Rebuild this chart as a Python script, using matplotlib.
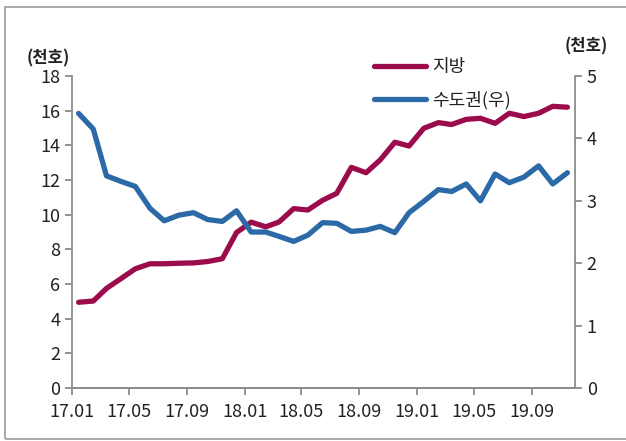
import numpy as np
import pandas as pd
import matplotlib
matplotlib.use('Agg')
import matplotlib.pyplot as plt
import matplotlib.dates as mdates
from matplotlib.patches import Rectangle

plt.rcParams['font.family'] = ['Noto Sans CJK KR', 'DejaVu Sans']

# 월별 자료 (17.01 ~ 19.11)
months = pd.date_range('2017-01-01', periods=35, freq='MS') + pd.Timedelta(days=14)

jibang = [4.95, 5.02, 5.75, 6.32, 6.88, 7.17, 7.17, 7.2, 7.22, 7.3, 7.46, 8.97,
          9.57, 9.3, 9.58, 10.35, 10.27, 10.83, 11.23, 12.73, 12.42, 13.16, 14.18, 13.96,
          14.98, 15.31, 15.2, 15.5, 15.56, 15.27, 15.85, 15.66, 15.85, 16.25, 16.2]
sudo = [4.40, 4.15, 3.40, 3.31, 3.23, 2.88, 2.68, 2.77, 2.81, 2.70, 2.67, 2.84,
        2.50, 2.50, 2.43, 2.35, 2.45, 2.65, 2.64, 2.51, 2.53, 2.59, 2.49, 2.81,
        2.99, 3.18, 3.15, 3.27, 3.0, 3.43, 3.29, 3.38, 3.56, 3.27, 3.45]

red = '#9C0C4C'
blue = '#2B6AA6'
gray = '#8C8C8C'
txt = '#222222'

fig = plt.figure(figsize=(6.26, 4.41), dpi=100)
ax = fig.add_axes([0.115, 0.12, 0.8035, 0.7077])
ax2 = ax.twinx()

l1, = ax.plot(months, jibang, color=red, lw=3.8, solid_capstyle='round', label='지방')
l2, = ax2.plot(months, sudo, color=blue, lw=3.8, solid_capstyle='round', label='수도권(우)')

ax.set_ylim(0, 18)
ax.set_yticks(np.arange(0, 19, 2))
ax2.set_ylim(0, 5)
ax2.set_yticks(np.arange(0, 6, 1))

ax.set_xlim(pd.Timestamp('2017-01-01'), pd.Timestamp('2019-12-01'))
ax.xaxis.set_major_locator(mdates.MonthLocator(bymonth=[1, 5, 9]))
ax.xaxis.set_major_formatter(mdates.DateFormatter('%y.%m'))

for a in (ax, ax2):
    a.spines['top'].set_visible(False)
    for s in ('left', 'right', 'bottom'):
        a.spines[s].set_color(gray)
        a.spines[s].set_linewidth(1.3)
    a.tick_params(colors=gray, labelcolor=txt, labelsize=13, length=5, width=1.3)
ax.spines['right'].set_visible(False)
ax2.spines['left'].set_visible(False)
ax.tick_params(axis='x', pad=6)

fig.text(0.043, 0.868, '(천호)', fontsize=12, fontweight='bold', color=txt, va='center')
fig.text(0.902, 0.895, '(천호)', fontsize=12, fontweight='bold', color=txt, va='center')

leg = ax.legend(handles=[l1, l2], loc='upper left', bbox_to_anchor=(0.586, 1.08),
                frameon=False, fontsize=13, handlelength=2.9, labelspacing=0.8,
                handletextpad=0.3, borderaxespad=0)
for t in leg.get_texts():
    t.set_color(txt)

fig.patches.append(Rectangle((0.008, 0.0045), 1.05, 0.9795, transform=fig.transFigure,
                             fill=False, edgecolor='#9A9A9A', lw=1.2))

fig.savefig('out.png', dpi=100)
